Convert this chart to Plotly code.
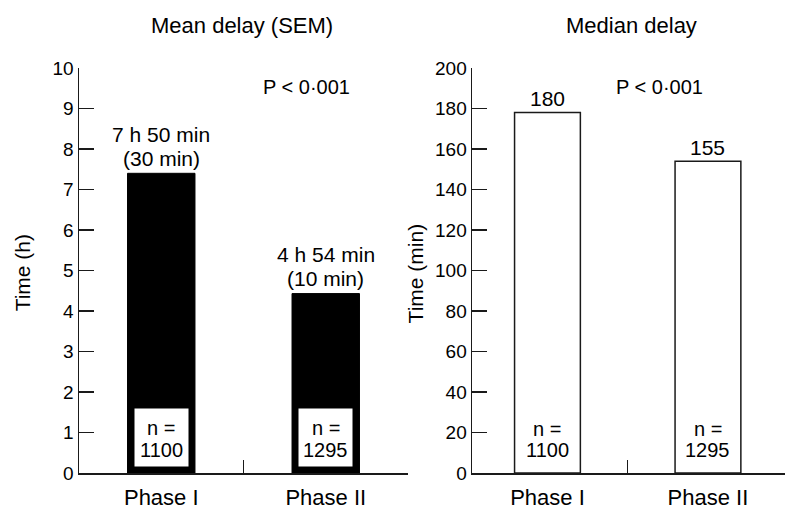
import plotly.graph_objects as go

# ---- data ----
categories = ["Phase I", "Phase II"]
mean_delay_h = [7.4, 4.43]          # bar heights as drawn (hours)
mean_labels = ["7 h 50 min", "4 h 54 min"]
sem_labels = ["(30 min)", "(10 min)"]
median_delay_min = [178, 154]       # bar heights as drawn (minutes)
median_labels = ["180", "155"]
n_values = [1100, 1295]
p_text = "P < 0·001"

FONT = "Liberation Sans, Arial, Helvetica, sans-serif"
AX = "#1a1a1a"

fig = go.Figure()
fig.add_trace(go.Bar(x=categories, y=mean_delay_h, width=0.41,
                     marker=dict(color="black", line=dict(color="black", width=1)),
                     xaxis="x", yaxis="y", showlegend=False, hoverinfo="skip"))
fig.add_trace(go.Bar(x=categories, y=median_delay_min, width=0.41,
                     marker=dict(color="white", line=dict(color=AX, width=1.5)),
                     xaxis="x2", yaxis="y2", showlegend=False, hoverinfo="skip"))

ann = []
def A(size=20, **kw):
    d = dict(showarrow=False, xanchor="center", yanchor="middle",
             font=dict(family=FONT, size=size, color="black"))
    d.update(kw)
    ann.append(d)

for i, c in enumerate(categories):
    # left panel labels
    A(x=c, y=mean_delay_h[i], xref="x", yref="y", text=mean_labels[i], yshift=39, size=21)
    A(x=c, y=mean_delay_h[i], xref="x", yref="y", text=sem_labels[i], yshift=15, size=21)
    # white boxes with n
    A(x=c, y=0, xref="x", yref="y", text=" ", bgcolor="white", width=53, height=57,
      borderpad=0, yshift=35.5)
    A(x=c, y=0, xref="x", yref="y", text="n =", yshift=45)
    A(x=c, y=0, xref="x", yref="y", text=str(n_values[i]), yshift=23)
    # right panel labels
    A(x=c, y=median_delay_min[i], xref="x2", yref="y2", text=median_labels[i], yshift=14, size=21)
    A(x=c, y=0, xref="x2", yref="y2", text="n =", yshift=44)
    A(x=c, y=0, xref="x2", yref="y2", text=str(n_values[i]), yshift=23)

# P values
A(x=0.88, y=9.54, xref="x", yref="y", text=p_text)
A(x=0.70, y=190.7, xref="x2", yref="y2", text=p_text)
# panel titles
A(x=0.495, y=1.105, xref="x domain", yref="paper", text="Mean delay (SEM)", size=22)
A(x=0.51, y=1.105, xref="x2 domain", yref="paper", text="Median delay", size=22)
# y axis titles
A(x=-0.0807, y=0.493, xref="paper", yref="paper", text="Time (h)", textangle=-90, size=21)
A(x=0.476, y=0.493, xref="paper", yref="paper", text="Time (min)", textangle=-90, size=21)

xcommon = dict(type="category", showline=True, linecolor=AX, linewidth=1.5,
               ticks="inside", ticklen=13, tickwidth=1.2, tickcolor=AX,
               tickson="boundaries", showgrid=False, zeroline=False,
               tickfont=dict(family=FONT, size=22, color="black"), ticklabelstandoff=4,
               fixedrange=True)
ycommon = dict(showline=True, linecolor=AX, linewidth=1.5, ticks="inside", ticklen=15,
               tickwidth=1.2, tickcolor=AX, showgrid=False, zeroline=False,
               tickfont=dict(family=FONT, size=19, color="black"), fixedrange=True)

fig.update_layout(
    width=785, height=510, autosize=False,
    margin=dict(l=79, r=0, t=68, b=32, pad=0),
    plot_bgcolor="white", paper_bgcolor="white",
    xaxis=dict(domain=[0, 0.466], range=[-0.5, 1.5], **xcommon),
    xaxis2=dict(domain=[0.5567, 1], range=[-0.47, 1.48], anchor="y2", **xcommon),
    yaxis=dict(range=[0, 10], dtick=1, anchor="x", **ycommon),
    yaxis2=dict(range=[0, 200], dtick=20, anchor="x2", **ycommon),
    annotations=ann,
    bargap=0,
)
fig.write_html("out.html", config={"displayModeBar": False, "staticPlot": True},
               post_script="document.body.style.margin='0';document.body.style.overflow='hidden';")
